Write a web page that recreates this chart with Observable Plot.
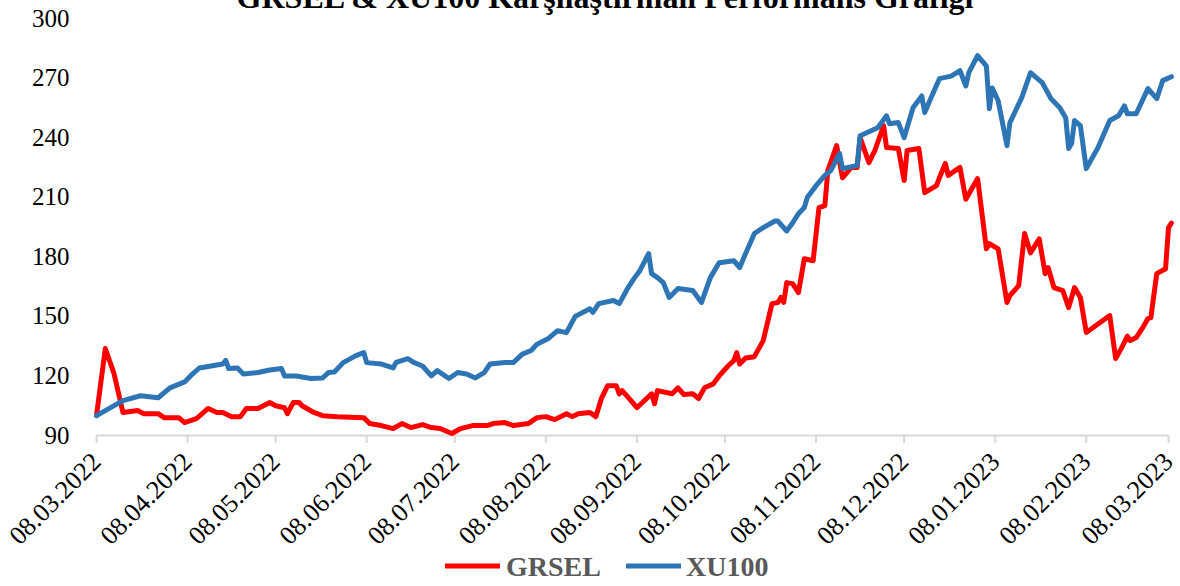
<!DOCTYPE html>
<html><head><meta charset="utf-8">
<script src="https://cdn.jsdelivr.net/npm/d3@7"></script>
<script src="https://cdn.jsdelivr.net/npm/@observablehq/plot@0.6"></script>
<style>
html,body{margin:0;padding:0;background:#fff;}
#wrap{position:relative;width:1180px;height:586px;overflow:hidden;background:#fff;}
#chart{position:absolute;left:0;top:0;}
#title{position:absolute;left:15px;width:1180px;top:-19px;text-align:center;font-family:"Liberation Serif";font-weight:bold;font-size:32px;line-height:32px;color:#000;white-space:nowrap;}
#legend{position:absolute;left:0;top:540px;}
</style></head><body>
<div id="wrap">
<div id="chart"></div>
<div id="title">GRSEL &amp; XU100 Karşılaştırmalı Performans Grafiği</div>
<svg id="legend" width="1180" height="46" xmlns="http://www.w3.org/2000/svg">
  <line x1="445" x2="500" y1="26" y2="26" stroke="#FF0000" stroke-width="5"/>
  <text x="506" y="36" font-family="Liberation Serif" font-weight="bold" font-size="28" fill="#595959">GRSEL</text>
  <line x1="626" x2="681" y1="26" y2="26" stroke="#2E75B6" stroke-width="5"/>
  <text x="686" y="36" font-family="Liberation Serif" font-weight="bold" font-size="28" fill="#595959">XU100</text>
</svg>
</div>
<script>
const seriesNames = ["GRSEL", "XU100"];
const yTicks = [90, 120, 150, 180, 210, 240, 270, 300];
const xTickDates = ["2022-03-08","2022-04-08","2022-05-08","2022-06-08","2022-07-08","2022-08-08","2022-09-08","2022-10-08","2022-11-08","2022-12-08","2023-01-08","2023-02-08","2023-03-08"];

const grselDates = ["2022-03-08","2022-03-11","2022-03-14","2022-03-17","2022-03-22","2022-03-24","2022-03-29","2022-03-31","2022-04-05","2022-04-07","2022-04-11","2022-04-13","2022-04-15","2022-04-18","2022-04-20","2022-04-23","2022-04-26","2022-04-28","2022-05-02","2022-05-06","2022-05-08","2022-05-11","2022-05-12","2022-05-14","2022-05-16","2022-05-17","2022-05-21","2022-05-24","2022-05-29","2022-06-07","2022-06-09","2022-06-13","2022-06-17","2022-06-20","2022-06-23","2022-06-27","2022-06-30","2022-07-03","2022-07-07","2022-07-10","2022-07-14","2022-07-19","2022-07-21","2022-07-25","2022-07-28","2022-08-02","2022-08-05","2022-08-08","2022-08-11","2022-08-15","2022-08-17","2022-08-19","2022-08-23","2022-08-25","2022-08-27","2022-08-29","2022-09-01","2022-09-02","2022-09-03","2022-09-06","2022-09-08","2022-09-13","2022-09-14","2022-09-15","2022-09-20","2022-09-22","2022-09-24","2022-09-27","2022-09-29","2022-10-01","2022-10-04","2022-10-06","2022-10-09","2022-10-11","2022-10-12","2022-10-13","2022-10-15","2022-10-18","2022-10-21","2022-10-24","2022-10-26","2022-10-27","2022-10-28","2022-10-29","2022-10-31","2022-11-02","2022-11-04","2022-11-07","2022-11-09","2022-11-11","2022-11-12","2022-11-15","2022-11-17","2022-11-20","2022-11-22","2022-11-23","2022-11-26","2022-11-28","2022-12-01","2022-12-02","2022-12-06","2022-12-08","2022-12-09","2022-12-13","2022-12-15","2022-12-19","2022-12-20","2022-12-22","2022-12-23","2022-12-27","2022-12-29","2023-01-02","2023-01-05","2023-01-06","2023-01-09","2023-01-12","2023-01-13","2023-01-16","2023-01-18","2023-01-20","2023-01-23","2023-01-25","2023-01-26","2023-01-28","2023-01-31","2023-02-02","2023-02-04","2023-02-06","2023-02-08","2023-02-16","2023-02-18","2023-02-20","2023-02-22","2023-02-23","2023-02-25","2023-02-27","2023-03-01","2023-03-02","2023-03-04","2023-03-07","2023-03-08","2023-03-09"];
const grselValues = [100,133.8,121,101.6,102.6,101,101,99,99,96.5,98.5,101,103.6,101.6,101.6,99.5,99.5,103.6,103.6,106.6,105,104,101,106.6,106.6,105,101.6,100,99.5,99,96,95,93.5,96,94,95.5,94,93.5,91,93.5,95,95,96,96.5,95,96,99,99.5,98,101,99.5,101,101.6,99.5,109,115,115,111,112.6,107.6,104,111,106,112.6,111,114,110.6,111,108.6,114,116,120,125,127.7,131.8,126,129,129.7,137.8,156.4,157,159.5,157,167,166.5,162,179,178,204.8,205.8,223.4,236,219.8,225,225,240,227.4,233.5,246,235,234.5,218.4,233.5,234.5,212.3,215.8,219.8,227,221,225,209,219.4,184,186.6,184,157,160.5,165.5,191.7,182,189,171.5,174.6,164.5,163,154.4,164.5,159.5,141.9,150.4,128.8,134,140,137.8,139.3,143.8,148.9,149.4,171.5,174,194.7,197];

const xu100Dates = ["2022-03-08","2022-03-17","2022-03-23","2022-03-29","2022-04-02","2022-04-07","2022-04-09","2022-04-12","2022-04-16","2022-04-20","2022-04-21","2022-04-22","2022-04-25","2022-04-27","2022-05-02","2022-05-06","2022-05-10","2022-05-11","2022-05-15","2022-05-20","2022-05-24","2022-05-26","2022-05-28","2022-05-31","2022-06-04","2022-06-07","2022-06-08","2022-06-13","2022-06-17","2022-06-18","2022-06-22","2022-06-24","2022-06-27","2022-06-30","2022-07-02","2022-07-06","2022-07-09","2022-07-12","2022-07-15","2022-07-18","2022-07-20","2022-07-25","2022-07-28","2022-07-31","2022-08-03","2022-08-05","2022-08-09","2022-08-12","2022-08-15","2022-08-18","2022-08-23","2022-08-24","2022-08-26","2022-08-31","2022-09-02","2022-09-05","2022-09-07","2022-09-09","2022-09-12","2022-09-13","2022-09-15","2022-09-17","2022-09-19","2022-09-22","2022-09-27","2022-09-30","2022-10-03","2022-10-06","2022-10-11","2022-10-13","2022-10-15","2022-10-18","2022-10-21","2022-10-25","2022-10-26","2022-10-29","2022-10-31","2022-11-02","2022-11-04","2022-11-05","2022-11-08","2022-11-11","2022-11-13","2022-11-16","2022-11-17","2022-11-22","2022-11-23","2022-11-29","2022-12-02","2022-12-03","2022-12-06","2022-12-08","2022-12-10","2022-12-11","2022-12-14","2022-12-15","2022-12-17","2022-12-20","2022-12-24","2022-12-27","2022-12-29","2022-12-30","2023-01-02","2023-01-05","2023-01-06","2023-01-07","2023-01-09","2023-01-12","2023-01-13","2023-01-17","2023-01-20","2023-01-24","2023-01-27","2023-01-30","2023-02-01","2023-02-02","2023-02-03","2023-02-04","2023-02-06","2023-02-08","2023-02-12","2023-02-16","2023-02-19","2023-02-21","2023-02-22","2023-02-25","2023-03-01","2023-03-04","2023-03-06","2023-03-09"];
const xu100Values = [100,107.6,110,109,114,117,120,124,125,126,127.8,123.7,124,121,121.7,123,123.7,120,120,118.7,119,121.7,122,126.7,130,131.8,126.7,126,124,126.8,128.7,126.8,125,120,122.7,118.7,121.7,121,119,121.7,126,126.8,126.8,131,132.8,136,139,142.8,141.8,150,153.8,152,156.4,158,156.4,164.5,169,173,181.6,171.5,169.5,167,159.5,164,163,157,169.5,177,178,174.6,181.6,191.7,194.7,198,198,193,197,201.7,204.8,209.8,215.8,221,223.4,232,224.4,226,241,245,251,247,247.6,240,250,255,261,252.6,259.6,269.7,271,273.7,266,272.7,281.3,276,254.6,265,258.6,236,247.6,260,272.7,267.7,259.6,255,250,234.5,237,248.6,246,224.4,235,248.6,251,256,252,252,264.7,259.6,268.7,270.7];

const colors = {GRSEL: "#FF0000", XU100: "#2E75B6"};
const parse = d3.utcParse("%Y-%m-%d");
const rows = [];
grselDates.forEach((d, i) => rows.push({series: "GRSEL", date: parse(d), value: grselValues[i]}));
xu100Dates.forEach((d, i) => rows.push({series: "XU100", date: parse(d), value: xu100Values[i]}));

const chart = Plot.plot({
  width: 1180,
  height: 586,
  marginTop: 18,
  marginBottom: 151,
  marginLeft: 96,
  marginRight: 12,
  style: {fontFamily: "Liberation Serif", background: "white", overflow: "visible"},
  x: {type: "utc", domain: [parse(xTickDates[0]), parse(xTickDates[xTickDates.length - 1])]},
  y: {domain: [90, 300]},
  marks: [
    Plot.ruleY([90], {stroke: "#D9D9D9", strokeWidth: 2}),
    Plot.axisY({ticks: yTicks, tickSize: 0, tickPadding: 27, fontSize: 25, fontFamily: "Liberation Serif", label: null}),
    Plot.axisX({ticks: xTickDates.map(parse), tickSize: 8, stroke: "#D9D9D9", strokeWidth: 2,
      tickRotate: -45, tickPadding: 14, fontSize: 26, fontFamily: "Liberation Serif",
      tickFormat: d3.utcFormat("%d.%m.%Y"), label: null}),
    Plot.lineY(rows.filter(d => d.series === "GRSEL"), {x: "date", y: "value", stroke: colors.GRSEL, strokeWidth: 5, strokeLinejoin: "round"}),
    Plot.lineY(rows.filter(d => d.series === "XU100"), {x: "date", y: "value", stroke: colors.XU100, strokeWidth: 5, strokeLinejoin: "round"})
  ]
});
document.getElementById("chart").appendChild(chart);
</script>
</body></html>
